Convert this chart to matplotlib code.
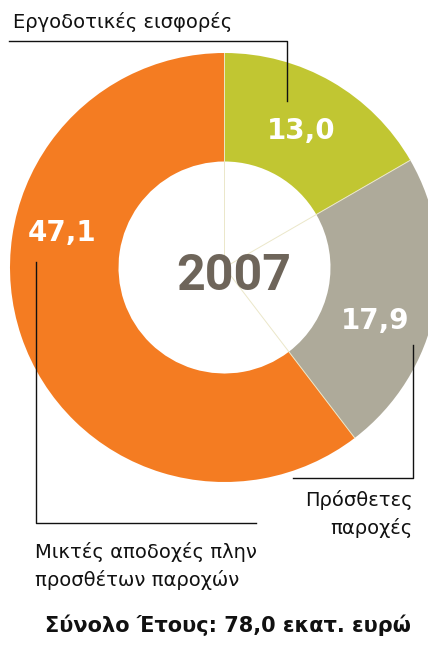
import numpy as np
import matplotlib
matplotlib.use("Agg")
import matplotlib.pyplot as plt

# Data
categories = ["Εργοδοτικές εισφορές", "Πρόσθετες παροχές", "Μικτές αποδοχές πλην προσθέτων παροχών"]
values = [13.0, 17.9, 47.1]
value_labels = ["13,0", "17,9", "47,1"]
colors = ["#c1c632", "#aeaa9a", "#f47c22"]
year = "2007"
total_label = "Σύνολο Έτους: 78,0 εκατ. ευρώ"

W, H = 428, 646
fig = plt.figure(figsize=(W / 100, H / 100), dpi=100)
ax = fig.add_axes([0, 0, 1, 1])

def Y(py):
    return H - py

cx, cy = 224.5, Y(267.5)
R, r_in = 214.5, 106.0

ax.pie(values, colors=colors, startangle=90, counterclock=False,
       center=(cx, cy), radius=R,
       wedgeprops=dict(width=R - r_in, linewidth=0))

# faint radial boundary lines
cum = np.concatenate([[0], np.cumsum(values)])
for c in cum[:-1]:
    ang = np.deg2rad(90 - 360 * c / sum(values))
    ax.plot([cx, cx + R * np.cos(ang)], [cy, cy + R * np.sin(ang)],
            color="#ebe7c9", lw=0.7, zorder=3)

ax.set_xlim(0, W)
ax.set_ylim(0, H)
ax.set_aspect("equal")
ax.axis("off")

# center year
ax.text(234, Y(277), year, ha="center", va="center", fontsize=36,
        fontweight="bold", color="#6e655a", family="Roboto")

# value labels
val_pos = [(301, 131), (375, 321), (62, 233)]
for (px, py), lab in zip(val_pos, value_labels):
    ax.text(px, Y(py), lab, ha="center", va="center", fontsize=20,
            fontweight="bold", color="white", family="DejaVu Sans")

lc = "#111111"
lw = 1.0
fs = 14
fam = "DejaVu Sans"
# annotation 1
ax.plot([9, 287, 287], [Y(41), Y(41), Y(101)], color=lc, lw=lw)
ax.text(13, Y(22), categories[0], ha="left", va="center", fontsize=fs,
        family=fam, color="#111111")
# annotation 2
ax.plot([413, 413, 293], [Y(345), Y(478), Y(478)], color=lc, lw=lw)
ax.text(413, Y(500), "Πρόσθετες", ha="right", va="center", fontsize=fs,
        family=fam, color="#111111")
ax.text(413, Y(528), "παροχές", ha="right", va="center", fontsize=fs,
        family=fam, color="#111111")
# annotation 3
ax.plot([36, 36, 256], [Y(262), Y(523), Y(523)], color=lc, lw=lw)
ax.text(35, Y(552), "Μικτές αποδοχές πλην", ha="left", va="center", fontsize=fs,
        family=fam, color="#111111")
ax.text(35, Y(580), "προσθέτων παροχών", ha="left", va="center", fontsize=fs,
        family=fam, color="#111111")

# total
ax.text(228, Y(625), total_label, ha="center", va="center", fontsize=15,
        fontweight="bold", family=fam, color="#111111")

fig.savefig("out.png", dpi=100)
